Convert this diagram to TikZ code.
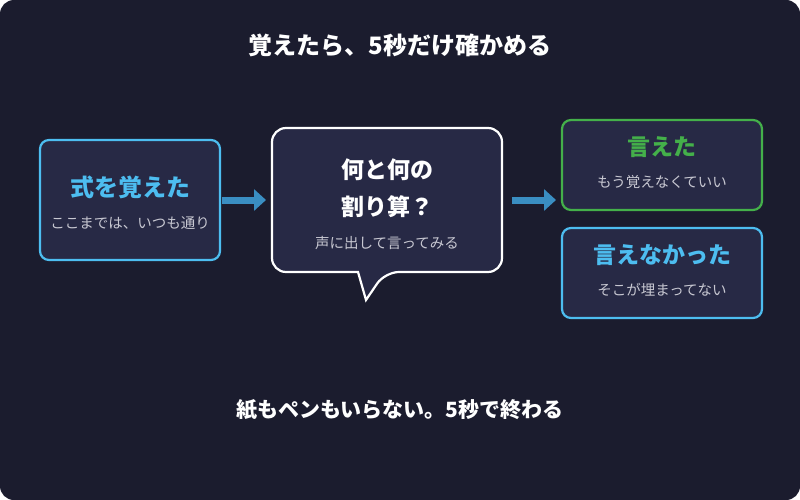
\documentclass[tikz,border=0pt]{standalone}
\usepackage{fontspec}
\setmainfont{Noto Sans CJK JP}
\usetikzlibrary{arrows.meta}
\definecolor{bg}{HTML}{1B1C2E}
\definecolor{boxf}{HTML}{272945}
\definecolor{blu}{HTML}{4DBDF0}
\definecolor{grn}{HTML}{44B04A}
\definecolor{arr}{HTML}{3A8EC2}
\definecolor{sub}{HTML}{C8C8D2}
\begin{document}
\begin{tikzpicture}[x=1pt,y=-1pt,
  box/.style={draw,line width=2.2pt,fill=boxf,rounded corners=9pt},
  head/.style={font=\fontsize{23}{23}\selectfont\bfseries},
  subt/.style={text=sub,font=\fontsize{14.5}{15}\selectfont},
  big/.style={text=white,font=\fontsize{23}{23}\selectfont\bfseries},
  ar/.style={draw=arr,line width=7pt,-{Triangle[length=12pt,width=21pt]}}]
\useasboundingbox (0,0) rectangle (800,500);
\fill[bg,rounded corners=14pt] (0,0) rectangle (800,500);
\node[big,font=\fontsize{24}{24}\selectfont\bfseries] (title) at (400,45) {覚えたら、5秒だけ確かめる};
\node[big,font=\fontsize{21}{21}\selectfont\bfseries] (foot) at (400,410) {紙もペンもいらない。5秒で終わる};
% box 1
\draw[box,draw=blu] (40,140) rectangle (220,260);
\node[head,text=blu,font=\fontsize{24}{24}\selectfont\bfseries] (h1) at (130,187) {式を覚えた};
\node[subt] (s1) at (130,223) {ここまでは、いつも通り};
\coordinate (b1r) at (220,200);
% bubble
\draw[line width=2.2pt,draw=white,fill=boxf,rounded corners=14pt]
  (272,128) -- (502,128) -- (502,272) -- (385,272) [sharp corners] -- (366,300) -- (358,272) [rounded corners=14pt] -- (272,272) -- cycle;
\node[big] (q1) at (387,170) {何と何の};
\node[big] (q2) at (387,207) {割り算？};
\node[subt] (s2) at (387,243) {声に出して言ってみる};
\coordinate (bl) at (272,200);
\coordinate (brr) at (502,200);
% right boxes
\draw[box,draw=grn] (562,120) rectangle (762,210);
\node[head,text=grn] (h3) at (662,147) {言えた};
\node[subt] (s3) at (662,182) {もう覚えなくていい};
\draw[box,draw=blu] (562,228) rectangle (762,318);
\node[head,text=blu] (h4) at (662,255) {言えなかった};
\node[subt] (s4) at (662,290) {そこが埋まってない};
\coordinate (gl) at (562,200);
\draw[ar] ([xshift=2pt]b1r) -- ([xshift=-6pt]bl);
\draw[ar] ([xshift=10pt]brr) -- ([xshift=-6pt]gl);
\end{tikzpicture}
\end{document}
